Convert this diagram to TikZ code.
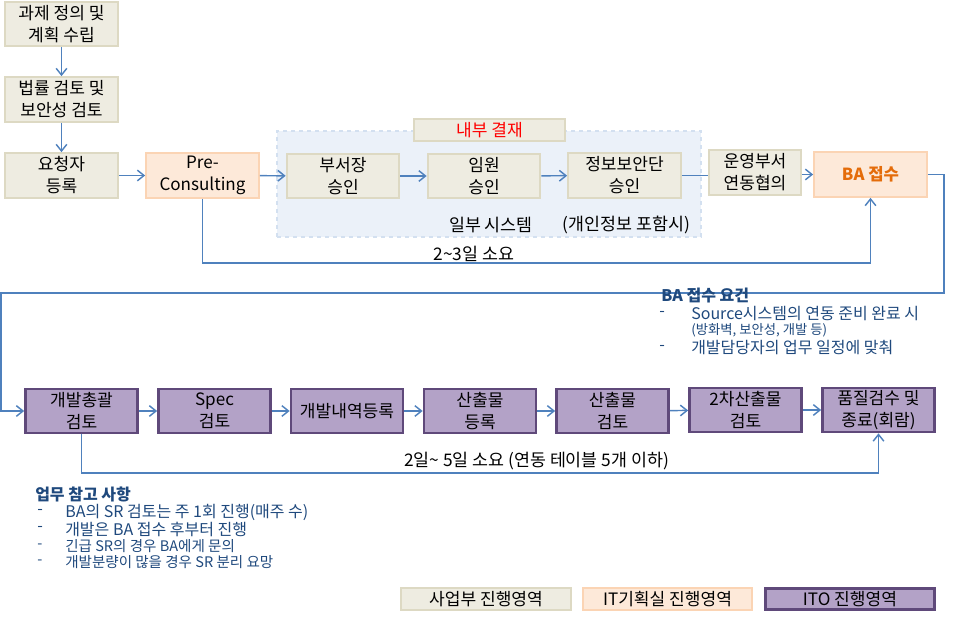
\documentclass[tikz,border=0pt]{standalone}
\usepackage{fontspec}
\setmainfont{Noto Sans CJK KR}
\usetikzlibrary{arrows.meta}

\definecolor{bizfill}{HTML}{EEECE1}
\definecolor{bizline}{HTML}{DDD9C3}
\definecolor{itfill}{HTML}{FDE9D9}
\definecolor{itline}{HTML}{FBD4B4}
\definecolor{itofill}{HTML}{B3A2C7}
\definecolor{itoline}{HTML}{5F497A}
\definecolor{flow}{HTML}{4F81BD}
\definecolor{note}{HTML}{1F497D}
\definecolor{zonefill}{HTML}{EBF1F9}
\definecolor{zoneline}{HTML}{D3E0F0}
\definecolor{baorange}{HTML}{E46C0A}

\tikzset{
    box/.style={draw, rectangle, line width=1.5pt, minimum width=84.5pt, minimum height=33.5pt,
        inner sep=1pt, align=center, font=\fontsize{12.8}{16.5}\selectfont},
    bizbox/.style={box, fill=bizfill, draw=bizline},
    itbox/.style={box, fill=itfill, draw=itline},
    itobox/.style={box, fill=itofill, draw=itoline, line width=2pt, minimum width=84pt, minimum height=33pt},
    legendbox/.style={box, minimum width=127pt, minimum height=16.5pt},
    flowline/.style={draw=flow, line width=1.1pt},
    plainlabel/.style={inner sep=0pt, font=\fontsize{13}{15}\selectfont},
    notetext/.style={anchor=west, inner sep=0pt, text=note, font=\fontsize{12}{14}\selectfont},
    smallnote/.style={notetext, font=\fontsize{10.9}{13}\selectfont}
}

\begin{document}
\begin{tikzpicture}[x=0.75pt, y=-0.75pt, >={Straight Barb[length=5pt, width=8pt]}]
    \useasboundingbox (0,0) rectangle (954,618);

    % Internal approval zone
    \node[draw=zoneline, fill=zonefill, dashed, line width=1.2pt, minimum width=318pt, minimum height=79.5pt] at (489,184) (zone) {};
    \node[bizbox, minimum width=113pt, minimum height=16.5pt, text=red] at (489.5,130) (approval) {내부 결재};
    \node[plainlabel] at (491,225) (partsys) {일부 시스템};
    \node[plainlabel] at (626.5,225) (privacy) {(개인정보 포함시)};

    % Nodes, upper part
    \node[bizbox] at (61.5,24) (plan) {과제 정의 및\\계획 수립};
    \node[bizbox] at (61.5,99.5) (legal) {법률 검토 및\\보안성 검토};
    \node[bizbox] at (61.5,175.5) (req) {요청자\\등록};
    \node[itbox] at (202.5,175.5) (pre) {Pre-\\Consulting};
    \node[bizbox] at (343,176) (dept) {부서장\\승인};
    \node[bizbox] at (484,176) (exec) {임원\\승인};
    \node[bizbox] at (624.5,175.5) (sec) {정보보안단\\승인};
    \node[bizbox, minimum width=69pt] at (755,172.5) (ops) {운영부서\\연동협의};
    \node[itbox, text=baorange, font=\fontsize{12.5}{16.5}\selectfont\bfseries] at (870.5,174.5) (ba) {BA 접수};

    % Nodes, lower part
    \node[itobox] at (81.5,411) (lead) {개발총괄\\검토};
    \node[itobox] at (214.5,411) (spec) {Spec\\검토};
    \node[itobox] at (347,411) (devreg) {개발내역등록};
    \node[itobox] at (480,411) (outreg) {산출물\\등록};
    \node[itobox] at (612.5,411) (outrev) {산출물\\검토};
    \node[itobox] at (745.5,410) (outsecond) {2차산출물\\검토};
    \node[itobox] at (878.5,410) (qa) {품질검수 및\\종료(회람)};

    % Turning points
    \coordinate (fastlane) at (0,263);
    \coordinate (slowlane) at (0,473);
    \coordinate (turnright) at (944,293);
    \coordinate (turnleft) at (1,293);

    % Edges, upper part
    \draw[flowline, ->] (plan) -- (legal);
    \draw[flowline, ->] (legal) -- (req);
    \draw[flowline, ->] (req) -- (pre);
    \draw[flowline, ->] (pre) -- (dept);
    \draw[flowline, ->] (dept) -- (exec);
    \draw[flowline, ->] (exec) -- (sec);
    \draw[flowline] (sec.east) -- (sec.east -| ops.west);
    \draw[flowline, ->] (ops.east |- ba.west) -- (ba.west);
    \draw[flowline, ->] (pre.south) -- (pre.south |- fastlane) -| (ba.south);
    \node[plainlabel] at (474,254) (fastlabel) {2\textasciitilde3일 소요};

    % From BA to the lower row
    \draw[flowline, ->] (ba.east) -| (turnright) -- (turnleft) |- (lead.west);

    % Edges, lower part
    \draw[flowline, ->] (lead) -- (spec);
    \draw[flowline, ->] (spec) -- (devreg);
    \draw[flowline, ->] (devreg) -- (outreg);
    \draw[flowline, ->] (outreg) -- (outrev);
    \draw[flowline, ->] (outrev) -- (outsecond);
    \draw[flowline, ->] (outsecond) -- (qa);
    \draw[flowline, ->] (lead.south) -- (lead.south |- slowlane) -| (qa.south);
    \node[plainlabel] at (536.5,461) (slowlabel) {2일\textasciitilde{} 5일 소요 (연동 테이블 5개 이하)};

    % BA requirements
    \node[notetext, font=\fontsize{12}{14}\selectfont\bfseries] at (661,296) (reqhead) {BA 접수 요건};
    \node[notetext] at (659,314) (reqdasha) {-};
    \node[notetext] at (691,314) (reqa) {Source시스템의 연동 준비 완료 시};
    \node[smallnote, font=\fontsize{10}{12}\selectfont] at (691,330) (reqaa) {(방화벽, 보안성, 개발 등)};
    \node[notetext] at (659,348) (reqdashb) {-};
    \node[notetext] at (691,348) (reqb) {개발담당자의 업무 일정에 맞춰};

    % Work notes
    \node[notetext, font=\fontsize{12}{14}\selectfont\bfseries] at (35,494) (workhead) {업무 참고 사항};
    \node[notetext] at (37,512) (workdasha) {-};
    \node[notetext] at (65,512) (worka) {BA의 SR 검토는 주 1회 진행(매주 수)};
    \node[notetext] at (37,529) (workdashb) {-};
    \node[notetext] at (65,529) (workb) {개발은 BA 접수 후부터 진행};
    \node[smallnote] at (37,546) (workdashc) {-};
    \node[smallnote] at (65,546) (workc) {긴급 SR의 경우 BA에게 문의};
    \node[smallnote] at (37,562) (workdashd) {-};
    \node[smallnote] at (65,562) (workd) {개발분량이 많을 경우 SR 분리 요망};

    % Legend
    \node[legendbox, fill=bizfill, draw=bizline] at (486,599) (legbiz) {사업부 진행영역};
    \node[legendbox, fill=itfill, draw=itline] at (667.5,599) (legit) {IT기획실 진행영역};
    \node[legendbox, fill=itofill, draw=itoline, line width=2pt, minimum width=126.5pt, minimum height=16pt] at (850,599) (legito) {ITO 진행영역};
\end{tikzpicture}
\end{document}
